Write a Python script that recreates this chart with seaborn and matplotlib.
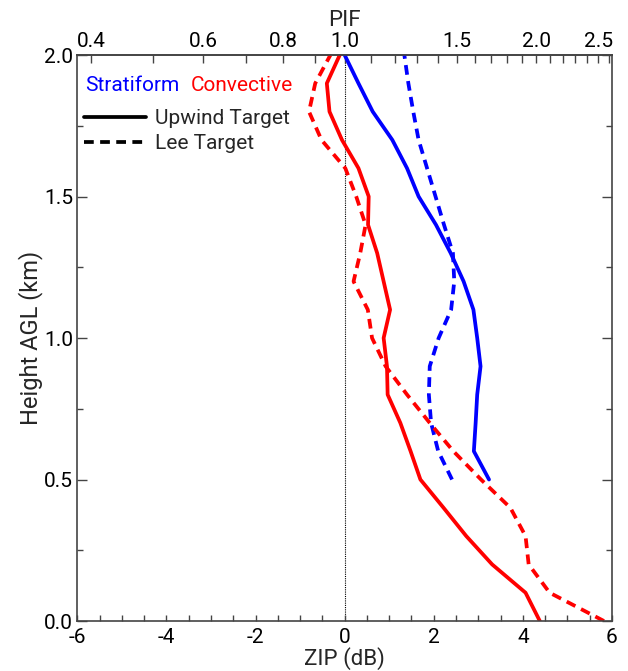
import numpy as np
import pandas as pd
import matplotlib
matplotlib.use("Agg")
import matplotlib.pyplot as plt
import seaborn as sns
from matplotlib.lines import Line2D
from matplotlib.ticker import FixedLocator, MultipleLocator

# ---------------- data ----------------
heights_full = [0.0, 0.1, 0.2, 0.3, 0.4, 0.5, 0.6, 0.7, 0.8, 0.9, 1.0,
                1.1, 1.2, 1.3, 1.4, 1.5, 1.6, 1.7, 1.8, 1.9, 2.0]
heights_strat = [0.5, 0.6, 0.7, 0.8, 0.9, 1.0, 1.1, 1.2, 1.3, 1.4, 1.5,
                 1.6, 1.7, 1.8, 1.9, 2.0]

conv_upwind = [4.38, 4.06, 3.31, 2.73, 2.22, 1.70, 1.48, 1.25, 0.965, 0.95, 0.875,
               1.02, 0.875, 0.73, 0.525, 0.54, 0.31, -0.06, -0.34, -0.40, -0.11]
conv_lee = [5.82, 4.60, 4.13, 4.06, 3.72, 3.06, 2.44, 1.91, 1.40, 0.92, 0.615,
            0.52, 0.20, 0.35, 0.47, 0.26, 0.015, -0.52, -0.80, -0.66, -0.32]
strat_upwind = [3.24, 2.90, 2.94, 2.975, 3.05, 2.975, 2.89, 2.67, 2.38, 2.05, 1.66,
                1.40, 1.07, 0.63, 0.31, 0.0]
strat_lee = [2.41, 2.10, 1.94, 1.89, 1.91, 2.11, 2.39, 2.46, 2.43, 2.23, 2.04,
             1.85, 1.66, 1.54, 1.43, 1.34]

pif_major = [0.4, 0.6, 0.8, 1.0, 1.5, 2.0, 2.5]
pif_minor = [0.5, 0.7, 0.9, 1.1, 1.2, 1.3, 1.4, 1.6, 1.7, 1.8, 1.9,
             2.1, 2.2, 2.3, 2.4, 2.6]
ZIP_PER_DECADE = 14.3  # ZIP (dB) = 14.3 * log10(PIF)

frames = []
for regime, target, h, v in [
    ("Stratiform", "Upwind", heights_strat, strat_upwind),
    ("Stratiform", "Lee", heights_strat, strat_lee),
    ("Convective", "Upwind", heights_full, conv_upwind),
    ("Convective", "Lee", heights_full, conv_lee),
]:
    frames.append(pd.DataFrame({"ZIP": v, "Height": h, "Regime": regime, "Target": target}))
df = pd.concat(frames, ignore_index=True)

# ---------------- style ----------------
sns.set_theme(style="ticks")
plt.rcParams["font.family"] = ["Roboto", "DejaVu Sans"]
plt.rcParams["axes.edgecolor"] = "#444444"
plt.rcParams["xtick.color"] = "#444444"
plt.rcParams["ytick.color"] = "#444444"
plt.rcParams["xtick.labelcolor"] = "black"
plt.rcParams["ytick.labelcolor"] = "black"

FS = 15

fig = plt.figure(figsize=(6.28, 6.71), dpi=100)
ax = fig.add_axes([0.1231, 0.0745, 0.8514, 0.8435])

palette = {"Stratiform": "#0000ff", "Convective": "#ff0000"}
dashes = {"Upwind": "", "Lee": (2.6, 1.7)}
sns.lineplot(data=df, x="ZIP", y="Height", hue="Regime", style="Target",
             units="Target", estimator=None, sort=False, palette=palette,
             dashes=dashes, linewidth=2.7, legend=False, ax=ax)

ax.axvline(0, color="black", ls=(0, (1, 1)), lw=0.8, zorder=0)

ax.set_xlim(-6, 6)
ax.set_ylim(0, 2)
ax.xaxis.set_major_locator(MultipleLocator(2))
ax.xaxis.set_minor_locator(MultipleLocator(0.5))
ax.yaxis.set_major_locator(MultipleLocator(0.5))
ax.yaxis.set_minor_locator(MultipleLocator(0.25))
ax.yaxis.set_major_formatter(plt.FuncFormatter(lambda v, p: f"{v:.1f}"))
ax.xaxis.set_major_formatter(plt.FuncFormatter(lambda v, p: f"{v:g}"))
ax.tick_params(which="both", direction="in", top=False, right=True, labelsize=FS)
ax.tick_params(which="major", length=7, width=1)
ax.tick_params(which="minor", length=4, width=1)
ax.tick_params(axis="x", which="major", length=4)
ax.tick_params(axis="x", pad=5)
ax.tick_params(axis="y", pad=3)
for s in ax.spines.values():
    s.set_linewidth(1.2)

ax.set_xlabel("ZIP (dB)", fontsize=16, labelpad=0)
ax.set_ylabel("Height AGL (km)", fontsize=17, labelpad=1)

top = ax.secondary_xaxis("top",
                         functions=(lambda z: 10 ** (np.asarray(z) / ZIP_PER_DECADE),
                                    lambda p: ZIP_PER_DECADE * np.log10(np.clip(p, 1e-6, None))))
top.xaxis.set_major_locator(FixedLocator(pif_major))
top.xaxis.set_minor_locator(FixedLocator(pif_minor))
top.xaxis.set_major_formatter(plt.FuncFormatter(lambda v, p: f"{v:.1f}"))
top.tick_params(which="both", direction="in", length=6, width=1, labelsize=FS, pad=3)
top.set_xlabel("PIF", fontsize=16, labelpad=4)

# ---------------- legend ----------------
ax.text(0.0144, 0.947, "Stratiform", color="#0000ff", fontsize=FS,
        transform=ax.transAxes, va="center", ha="left")
ax.text(0.213, 0.947, "Convective", color="#ff0000", fontsize=FS,
        transform=ax.transAxes, va="center", ha="left")
handles = [Line2D([], [], color="black", lw=2.7),
           Line2D([], [], color="black", lw=2.7, ls=(0, (2.6, 1.7)))]
ax.legend(handles, ["Upwind Target", "Lee Target"], loc="upper left",
          bbox_to_anchor=(0.004, 0.912), frameon=False, fontsize=FS,
          handlelength=3.0, handletextpad=0.45, labelspacing=0.3,
          borderaxespad=0.0, borderpad=0.2)

fig.savefig("out.png", dpi=100)
